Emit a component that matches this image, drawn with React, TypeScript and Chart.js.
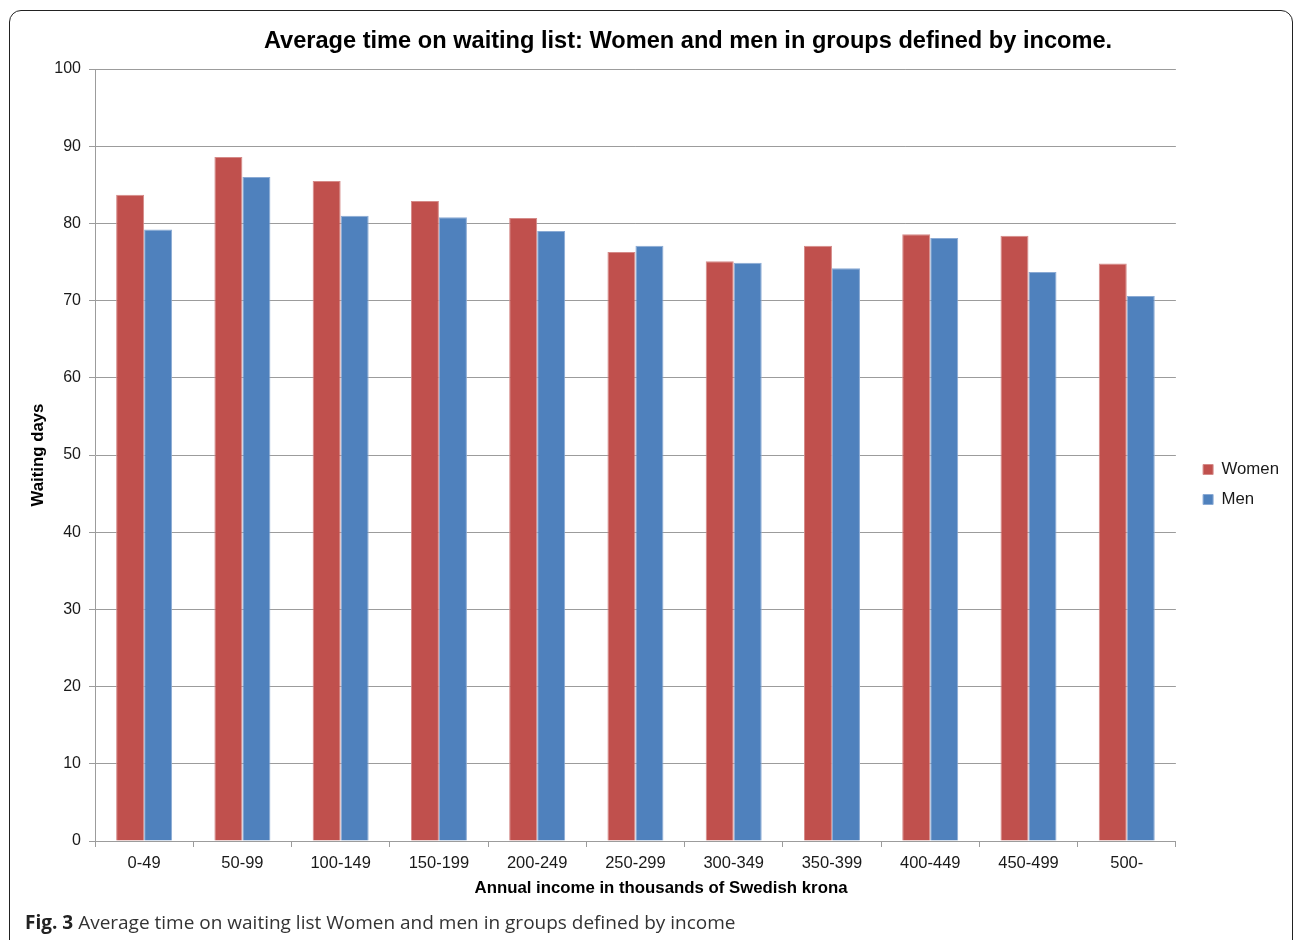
import React, { useEffect, useRef } from "react";
import { Chart, registerables } from "chart.js";

Chart.register(...registerables);

const categories = ["0-49", "50-99", "100-149", "150-199", "200-249", "250-299", "300-349", "350-399", "400-449", "450-499", "500-"];
const women = [83.7, 88.6, 85.5, 82.9, 80.7, 76.3, 75.1, 77.1, 78.6, 78.4, 74.8];
const men = [79.2, 86.0, 81.0, 80.8, 79.0, 77.1, 74.9, 74.2, 78.1, 73.7, 70.6];
const seriesNames = ["Women", "Men"];
const yTicks = [0, 10, 20, 30, 40, 50, 60, 70, 80, 90, 100];

const chartTitle = "Average time on waiting list: Women and men in groups defined by income.";
const xTitle = "Annual income in thousands of Swedish krona";
const yTitle = "Waiting days";
const captionLabel = "Fig. 3";
const captionText = "Average time on waiting list Women and men in groups defined by income";

const FONT = "'Liberation Sans', Arial, Helvetica, sans-serif";
const GRID = "#9c9c9c";

export default function App() {
  const ref = useRef<HTMLCanvasElement | null>(null);

  useEffect(() => {
    if (!ref.current) return;
    const chart = new Chart(ref.current, {
      type: "bar",
      data: {
        labels: categories,
        datasets: [
          {
            label: seriesNames[0],
            data: women,
            backgroundColor: "#C0504D",
            borderColor: "#D58A88",
            borderWidth: 1,
            categoryPercentage: 0.57,
            barPercentage: 1,
          },
          {
            label: seriesNames[1],
            data: men,
            backgroundColor: "#4F81BD",
            borderColor: "#8AAAD4",
            borderWidth: 1,
            categoryPercentage: 0.57,
            barPercentage: 1,
          },
        ],
      },
      options: {
        animation: false,
        responsive: false,
        maintainAspectRatio: false,
        layout: { padding: { left: 20, right: 4, top: 69, bottom: 40 } },
        plugins: {
          title: { display: false },
          tooltip: { enabled: false },
          legend: {
            display: true,
            position: "right",
            align: "center",
            labels: {
              boxWidth: 10,
              boxHeight: 10,
              padding: 13.2,
              color: "#1a1a1a",
              font: { family: FONT, size: 16.8 },
            },
          },
        },
        scales: {
          x: {
            grid: {
              display: true,
              drawOnChartArea: false,
              drawTicks: true,
              tickLength: 6,
              color: GRID,
              offset: true,
            },
            border: { display: true, color: GRID, width: 1 },
            ticks: {
              color: "#1a1a1a",
              font: { family: FONT, size: 16.5 },
              padding: 7,
              maxRotation: 0,
              autoSkip: false,
            },
            title: { display: false },
            afterFit: (s: any) => {
              s.height = 59;
            },
          },
          y: {
            min: 0,
            max: 100,
            afterBuildTicks: (s: any) => {
              s.ticks = yTicks.map((v) => ({ value: v }));
            },
            grid: { color: GRID, tickLength: 6, lineWidth: 1 },
            border: { display: true, color: GRID, width: 1 },
            ticks: {
              color: "#1a1a1a",
              font: { family: FONT, size: 16 },
              padding: 8,
            },
            title: {
              display: true,
              text: yTitle,
              color: "#000",
              font: { family: FONT, size: 16.8, weight: "bold" },
              padding: { top: 8, bottom: 4 },
            },
            afterFit: (s: any) => {
              s.width = 75;
            },
          },
          yR: {
            type: "linear",
            position: "right",
            display: true,
            grid: { display: false },
            border: { display: false },
            ticks: { display: false },
            afterFit: (s: any) => {
              s.width = 14;
            },
          },
        },
      },
    });
    return () => chart.destroy();
  }, []);

  return (
    <div
      style={{
        position: "absolute",
        left: 0,
        top: 0,
        width: 1293,
        height: 940,
        overflow: "hidden",
        background: "#fff",
      }}
    >
      <div
        style={{
          position: "absolute",
          left: 9,
          top: 10,
          width: 1284,
          height: 1000,
          border: "1.5px solid #222",
          borderRadius: 12,
          boxSizing: "border-box",
        }}
      />
      <canvas
        ref={ref}
        width={1293}
        height={940}
        style={{ position: "absolute", left: 0, top: 0, width: 1293, height: 940 }}
      />
      <div
        style={{
          position: "absolute",
          left: 188,
          width: 1000,
          top: 26,
          textAlign: "center",
          fontFamily: FONT,
          fontWeight: "bold",
          fontSize: 23.6,
          color: "#000",
          whiteSpace: "nowrap",
          lineHeight: "28px",
        }}
      >
        {chartTitle}
      </div>
      <div
        style={{
          position: "absolute",
          left: 361,
          width: 600,
          top: 877,
          textAlign: "center",
          fontFamily: FONT,
          fontWeight: "bold",
          fontSize: 16.8,
          color: "#000",
          whiteSpace: "nowrap",
          lineHeight: "22px",
        }}
      >
        {xTitle}
      </div>
      <div
        style={{
          position: "absolute",
          left: 25,
          top: 910,
          fontFamily: "'Open Sans', 'Noto Sans', sans-serif",
          fontSize: 19,
          color: "#333",
          whiteSpace: "nowrap",
          lineHeight: "24px",
        }}
      >
        <span style={{ fontWeight: "bold", color: "#222" }}>{captionLabel}</span> {captionText}
      </div>
    </div>
  );
}
